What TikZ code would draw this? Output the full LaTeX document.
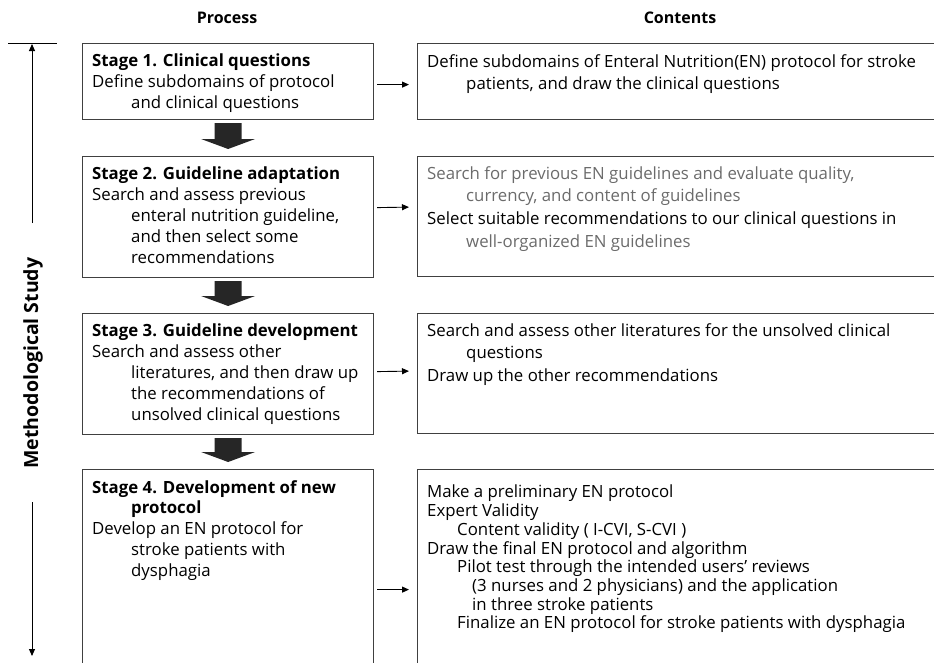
\documentclass[tikz,border=0pt]{standalone}
\usepackage{fontspec}
\setmainfont{Open Sans}
\usetikzlibrary{arrows.meta,calc}
\colorlet{softgray}{black!58}
\tikzset{
  procbox/.style={draw=black!75,line width=1.2pt,minimum width=291pt,anchor=north west,inner sep=0pt},
  contbox/.style={procbox,minimum width=540pt},
  boxtext/.style={anchor=north west,inner sep=0pt,align=left,font=\fontsize{16.8}{20.9}\selectfont},
  conttext/.style={boxtext,font=\fontsize{16.8}{22.7}\selectfont},
  head/.style={font=\fontsize{16}{19}\selectfont\bfseries},
  flow/.style={->,line width=0.9pt},
  blockarrow/.style={fill=black!85}
}
\newcommand{\indA}{\hspace*{39pt}}
\newcommand{\indB}{\hspace*{30pt}}
\newcommand{\indC}{\hspace*{45pt}}
\begin{document}
\begin{tikzpicture}[>={Triangle[length=7pt,width=6pt]},x=1pt,y=-1pt]
\useasboundingbox (0,0) rectangle (934,662);
\clip (0,0) rectangle (934,662);
% column heads
\node[head] (hproc) at (227,18) {Process};
\node[head] (hcont) at (680,18) {Contents};
% process column
\node[procbox,minimum height=76pt] (s1) at (82,43) {};
\node[procbox,minimum height=121pt] (s2) at (82,156) {};
\node[procbox,minimum height=121pt] (s3) at (82,313) {};
\node[procbox,minimum height=240pt] (s4) at (82,469) {};
\node[boxtext] (s1t) at ([xshift=10pt,yshift=-11pt]s1.north west) {\textbf{Stage 1. Clinical questions}\\Define subdomains of protocol\\\indA and clinical questions};
\node[boxtext] (s2t) at ([xshift=10pt,yshift=-11pt]s2.north west) {\textbf{Stage 2. Guideline adaptation}\\Search and assess previous\\\indA enteral nutrition guideline,\\\indA and then select some\\\indA recommendations};
\node[boxtext] (s3t) at ([xshift=10pt,yshift=-11pt]s3.north west) {\textbf{Stage 3. Guideline development}\\Search and assess other\\\indA literatures, and then draw up\\\indA the recommendations of\\\indA unsolved clinical questions};
\node[boxtext] (s4t) at ([xshift=10pt,yshift=-11pt]s4.north west) {\textbf{Stage 4. Development of new}\\\indA\textbf{protocol}\\Develop an EN protocol for\\\indA stroke patients with\\\indA dysphagia};
% contents column
\node[contbox,minimum height=76pt] (c1) at (417,43) {};
\node[contbox,minimum height=120pt] (c2) at (417,156) {};
\node[contbox,minimum height=120pt] (c3) at (417,313) {};
\node[contbox,minimum height=240pt] (c4) at (417,469) {};
\node[conttext] (c1t) at ([xshift=10pt,yshift=-11pt]c1.north west) {Define subdomains of Enteral Nutrition(EN) protocol for stroke\\\indA patients, and draw the clinical questions};
\node[conttext] (c2t) at ([xshift=10pt,yshift=-10pt]c2.north west) {\textcolor{softgray}{Search for previous EN guidelines and evaluate quality,}\\\textcolor{softgray}{\indA currency, and content of guidelines}\\Select suitable recommendations to our clinical questions in\\\textcolor{softgray}{\indA well-organized EN guidelines}};
\node[conttext] (c3t) at ([xshift=10pt,yshift=-10pt]c3.north west) {Search and assess other literatures for the unsolved clinical\\\indA questions\\Draw up the other recommendations};
\node[boxtext,font=\fontsize{16.8}{18.7}\selectfont] (c4t) at ([xshift=10pt,yshift=-16pt]c4.north west) {Make a preliminary EN protocol\\Expert Validity\\\indB Content validity ( I-CVI, S-CVI )\\Draw the final EN protocol and algorithm\\\indB Pilot test through the intended users’ reviews\\\indC (3 nurses and 2 physicians) and the application\\\indC in three stroke patients\\\indB Finalize an EN protocol for stroke patients with dysphagia};
% stage to stage
\foreach \a/\b in {s1/s2,s2/s3,s3/s4}
  \fill[blockarrow] ($(\a.south)+(-13.5,3)$) -- ($(\a.south)+(13.5,3)$) -- ($(\b.north)+(13.5,-17)$) -- ($(\b.north)+(27,-17)$) -- ($(\b.north)+(0,-7)$) -- ($(\b.north)+(-27,-17)$) -- ($(\b.north)+(-13.5,-17)$) -- cycle;
% process to contents
\foreach \i/\dy in {1/-3,2/9.5,3/2.5,4/0}
  \draw[flow] ([xshift=3pt,yshift=\dy pt]s\i.east) -- ([xshift=-8pt,yshift=\dy pt]c\i.west);
% side axis
\draw[line width=0.9pt] (8,43) -- (57,43);
\node[head,rotate=90,font=\fontsize{19.5}{22}\selectfont\bfseries] (meth) at (33,363) {Methodological Study};
\coordinate (mtop) at (32,44);
\coordinate (mup) at (32,223);
\coordinate (mlow) at (32,502);
\coordinate (mbot) at (32,656);
\draw[flow] (mup) -- (mtop);
\draw[flow] (mlow) -- (mbot);
\end{tikzpicture}
\end{document}
